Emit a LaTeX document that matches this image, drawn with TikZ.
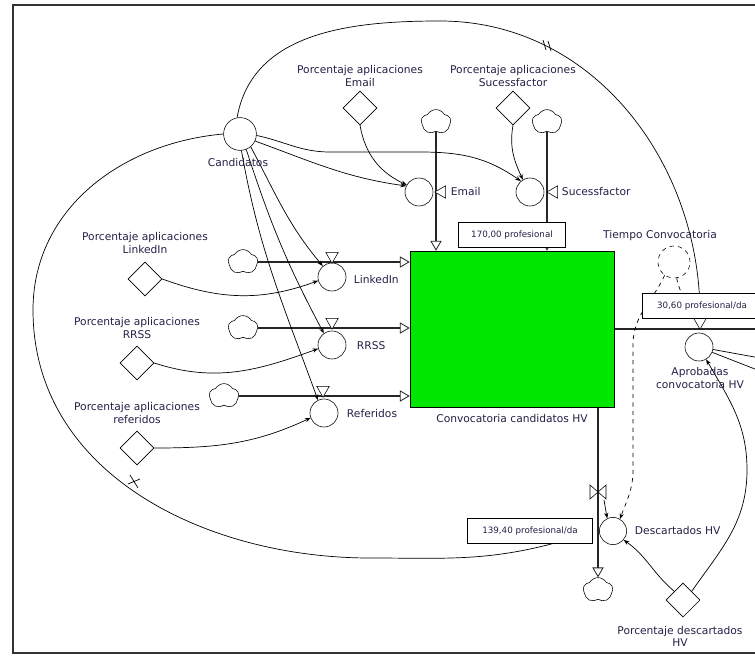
\documentclass[tikz,border=0pt]{standalone}
\usepackage{fontspec}
\setmainfont{DejaVu Sans}
\usetikzlibrary{shapes.geometric,shapes.symbols,arrows.meta,backgrounds}

\definecolor{stockgreen}{RGB}{0,230,0}
\definecolor{labelink}{RGB}{40,30,70}

\begin{document}
\begin{tikzpicture}[x=0.025cm, y=0.025cm,
  every node/.style={font=\fontsize{7.6}{8.6}\selectfont, text=labelink, align=center},
  aux/.style={circle, draw, minimum size=0.7cm, inner sep=0pt},
  const/.style={diamond, draw, minimum size=0.85cm, inner sep=0pt},
  source/.style={cloud, draw, cloud puffs=5, cloud puff arc=120, aspect=1.1, minimum width=0.74cm, minimum height=0.62cm, inner sep=0pt, fill=white},
  valvedown/.style={regular polygon, regular polygon sides=3, shape border rotate=180, draw, minimum size=0.36cm, inner sep=0pt, fill=white},
  valveleft/.style={regular polygon, regular polygon sides=3, shape border rotate=90, draw, minimum size=0.36cm, inner sep=0pt, fill=white},
  valuebox/.style={rectangle, draw, fill=white, minimum height=0.62cm, inner sep=2pt, font=\fontsize{6.2}{7}\selectfont},
  pipe/.style={line width=1.5pt, draw=black!85, -{Triangle[open, length=7pt, width=8pt, line width=0.6pt]}},
  link/.style={line width=0.5pt, -{Stealth[length=4pt, width=3pt]}},
  delay/.style={line width=0.5pt},
]
  \useasboundingbox (0,0) rectangle (755,-656);
  % Frame
  \draw[line width=1.8pt, black!80] (760,-5) -- (13,-5) -- (13,-653) -- (760,-653);

  % Stock
  \node (stock) [rectangle, draw, fill=stockgreen, minimum width=5.1cm, minimum height=3.9cm] at (512,-329) {};
  \node (stock-l) at (512,-419) {Convocatoria candidatos HV};

  % Nodes
  \node (cand) [aux, minimum size=0.82cm] at (240,-134) {};
  \node (cand-l) at (238,-163) {Candidatos};

  \node (pa-email) [const] at (360,-108) {};
  \node (pa-email-l) at (360,-76) {Porcentaje aplicaciones\\Email};
  \node (pa-suces) [const] at (513,-108) {};
  \node (pa-suces-l) at (513,-76) {Porcentaje aplicaciones\\Sucessfactor};
  \node (pa-link) [const] at (145,-279) {};
  \node (pa-link-l) at (145,-243) {Porcentaje aplicaciones\\LinkedIn};
  \node (pa-rrss) [const] at (137,-363) {};
  \node (pa-rrss-l) at (137,-328) {Porcentaje aplicaciones\\RRSS};
  \node (pa-ref) [const] at (137,-448) {};
  \node (pa-ref-l) at (137,-413) {Porcentaje aplicaciones\\referidos};
  \node (pd) [const] at (683,-600) {};
  \node (pd-l) at (680,-636) {Porcentaje descartados\\HV};

  \node (email) [aux] at (419,-192) {};
  \node (email-l) [anchor=west] at (446,-192) {Email};
  \node (suces) [aux] at (530,-192) {};
  \node (suces-l) [anchor=west] at (557,-192) {Sucessfactor};
  \node (link) [aux] at (332,-277) {};
  \node (link-l) [anchor=west] at (349,-280) {LinkedIn};
  \node (rrss) [aux] at (332,-345) {};
  \node (rrss-l) [anchor=west] at (352,-346) {RRSS};
  \node (ref) [aux] at (324,-413) {};
  \node (ref-l) [anchor=west] at (342,-414) {Referidos};
  \node (apr) [aux] at (699,-347) {};
  \node (apr-l) at (700,-378) {Aprobadas\\convocatoria HV};
  \node (desc) [aux, minimum size=0.68cm] at (613,-531) {};
  \node (desc-l) [anchor=west] at (630,-531) {Descartados HV};
  \node (tiempo) [aux, dashed, minimum size=0.8cm] at (674,-262) {};
  \node (tiempo-l) at (660,-236) {Tiempo Convocatoria};

  % Clouds
  \node (cl-email) [source] at (436,-122) {};
  \node (cl-suces) [source] at (547,-122) {};
  \node (cl-link) [source] at (243,-262) {};
  \node (cl-rrss) [source] at (243,-328) {};
  \node (cl-ref) [source] at (224,-396) {};
  \node (cl-desc) [source] at (598,-590) {};
  \coordinate (sink-apr) at (760,-329);

  % Valves
  \node (v-email) [valveleft] at (442,-192) {};
  \node (v-suces) [valveleft] at (554,-192) {};
  \node (v-link) [valvedown] at (332,-256) {};
  \node (v-rrss) [valvedown] at (332,-322) {};
  \node (v-ref) [valvedown] at (323,-390) {};
  \node (v-apr) [valvedown] at (700,-322) {};
  \coordinate (v-desc) at (598,-492);
  \draw[fill=white] ([shift={(-8,7)}]v-desc) -- ([shift={(8,-7)}]v-desc) -- ([shift={(8,7)}]v-desc) -- ([shift={(-8,-7)}]v-desc) -- cycle;

  % Values
  \node (val-stock) [valuebox, minimum width=2.675cm] at (512,-235) {170,00 profesional};
  \node (val-apr) [valuebox, minimum width=3cm] at (702,-306) {30,60 profesional/da};
  \node (val-desc) [valuebox, minimum width=3.125cm] at (530,-531) {139,40 profesional/da};
  \coordinate (val-desc-tip) at (555,-543);

  \begin{scope}[on background layer]
    % Pipes
    \draw[pipe] (cl-email.south) -- (cl-email.south |- stock.north);
    \draw[pipe] (cl-suces.south) -- (cl-suces.south |- stock.north);
    \draw[pipe] (cl-link.east) -- (cl-link.east -| stock.west);
    \draw[pipe] (cl-rrss.east) -- (cl-rrss.east -| stock.west);
    \draw[pipe] (cl-ref.east) -- (cl-ref.east -| stock.west);
    \draw[pipe, -] (stock.east) -- (sink-apr);
    \draw[pipe] (cl-desc.north |- stock.south) -- (cl-desc.north);

    % Links
    \draw[link] (cand.-25) to[out=-20, in=172] (email.155);
    \draw[link] (cand.-5) to[out=-12, in=180] (330,-152) -- (420,-152) to[out=0, in=145] (suces.130);
    \draw[link] (pa-email.south) to[out=-80, in=155] (email.150);
    \draw[link] (pa-suces.south) to[out=-100, in=115] (suces.120);
    \draw[link] (cand.-50) to[out=-62, in=130] (link.130);
    \draw[link] (cand.-68) to[out=-72, in=118] (rrss.125);
    \draw[link] (cand.-85) to[out=-80, in=110] (ref.115);
    \draw[link] (pa-link.east) to[out=-20, in=200] (link.195);
    \draw[link] (pa-rrss.east) to[out=-18, in=200] (rrss.195);
    \draw[link] (pa-ref.east) to[out=0, in=205] (ref.200);
    \draw[link, dashed] (tiempo.-80) to[out=-85, in=95] (v-apr.150);
    \draw[link, dashed] (tiempo.-125) to[out=-115, in=90] (633,-345) -- (633,-470) to[out=-90, in=70] (desc.60);
    \draw[link] (pd.north west) to[out=140, in=-35] (desc.-40);
    \draw[link] (pd.north east) to[out=55, in=-90] (747,-470) to[out=90, in=-60] (apr.-60);
    \draw[link] ([shift={(6,-8)}]v-desc) -- (desc.115);
    \coordinate (off-1) at (760,-358);
    \coordinate (off-2) at (760,-371);
    \draw[delay] (apr.-10) -- (off-1);
    \draw[delay] (apr.-22) -- (off-2);

    % Loops
    \draw[link] (cand.100) to[out=80, in=180] (440,-21) to[out=0, in=90] (v-apr.north);
    \draw[delay] (cand.west) to[out=185, in=90] (33,-310) to[out=-90, in=180] (370,-558) to[out=0, in=-165] (val-desc-tip);
    \draw[delay] (543,-40) -- (546,-50);
    \draw[delay] (548,-41) -- (551,-51);
    \draw[delay] (130,-475) -- (138,-488);
    \draw[delay] (128,-484) -- (140,-479);
  \end{scope}
\end{tikzpicture}
\end{document}
